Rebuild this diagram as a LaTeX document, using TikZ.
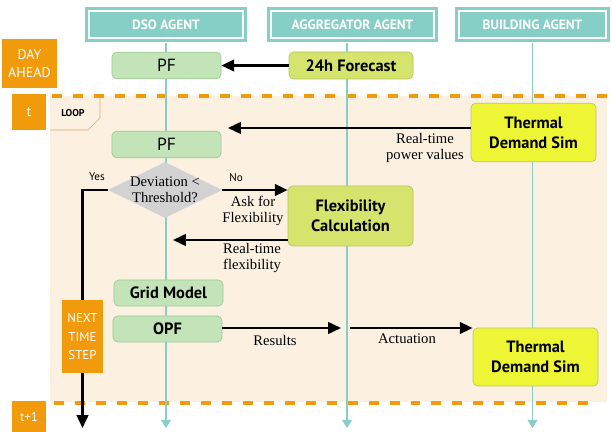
\documentclass[tikz,border=0pt]{standalone}
\usepackage{fontspec}
\setmainfont{Liberation Serif}
\setsansfont{PT Sans}
\usetikzlibrary{shapes.geometric,arrows.meta}
\definecolor{teal1}{HTML}{86CFC6}
\definecolor{orng}{HTML}{F09A0C}
\definecolor{peach}{HTML}{FCF0E1}
\definecolor{pfgreen}{HTML}{C3E4B8}
\definecolor{pfedge}{HTML}{9DCB93}
\definecolor{lime}{HTML}{D6E36C}
\definecolor{limeedge}{HTML}{B3C466}
\definecolor{yel}{HTML}{EDF534}
\definecolor{yeledge}{HTML}{B5C77A}
\definecolor{loopedge}{HTML}{F2A36B}
\definecolor{dia}{HTML}{D2D2D2}
\begin{document}
\begin{tikzpicture}[x=0.03cm,y=-0.03cm,inner sep=0,
	agent/.style={draw=teal1,fill=teal1,double=white,double distance=1.5pt,line width=2.5pt,minimum height=0.82cm,text=white,font=\sffamily\bfseries\fontsize{11.5}{13}\selectfont},
	stage/.style={fill=orng,text=white,align=center,font=\sffamily\fontsize{12}{16}\selectfont},
	task/.style={rounded corners=4pt,line width=0.6pt,align=center,font=\sffamily\bfseries\fontsize{14}{17}\selectfont},
	pf/.style={task,draw=pfedge,fill=pfgreen,minimum width=3.27cm,minimum height=0.8cm},
	sim/.style={task,draw=yeledge,fill=yel,minimum width=3.75cm,minimum height=1.76cm},
	msg/.style={line width=1.8pt,-{Triangle[length=11pt,width=10pt]}},
	life/.style={teal1,line width=1.2pt,-{Triangle[length=7pt,width=8.5pt]}},
	lbl/.style={align=center,font=\fontsize{12.5}{13.6}\selectfont},
	yn/.style={font=\sffamily\fontsize{9.5}{11}\selectfont}]
		\useasboundingbox (0,0) rectangle (612,432);
		\fill[peach] (50,96) rectangle (607,402);
		\draw[loopedge,line width=0.6pt] (50,130)--(88,130)--(100,118)--(100,96);
		\node[font=\sffamily\bfseries\fontsize{8.5}{10}\selectfont] (loop) at (73,113) {LOOP};
		\draw[orng,line width=3.5pt,dash pattern=on 8.5pt off 9.4pt] (52,96)--(612,96);
		\draw[orng,line width=3.5pt,dash pattern=on 8.5pt off 9.4pt] (54,403)--(596,403);
		\node[agent,minimum width=4.63cm] (dso) at (166,24.5) {DSO AGENT};
		\node[agent,minimum width=4.90cm] (agg) at (352.5,24.5) {AGGREGATOR AGENT};
		\node[agent,minimum width=4.42cm] (bld) at (532.5,24.5) {BUILDING AGENT};
		\coordinate (bot) at (0,428);
		\coordinate (lifeA) at (347,0);
		\draw[life,shorten <=3.3pt] (dso.south)--(dso.south |- bot);
		\draw[life,shorten <=3.3pt] (agg.south -| lifeA)--(lifeA |- bot);
		\draw[life,shorten <=3.3pt] (bld.south)--(bld.south |- bot);
		\node[stage,minimum width=1.65cm,minimum height=1.47cm] (day) at (29.5,63.5) {DAY\\AHEAD};
		\node[stage,minimum width=1.02cm,minimum height=1.08cm] (t0) at (29,112) {t};
		\node[stage,font=\sffamily\fontsize{11}{13}\selectfont,minimum width=1.02cm,minimum height=0.93cm] (t1) at (29,416.5) {t+1};
		\node[stage,font=\sffamily\fontsize{11}{16}\selectfont,minimum width=1.23cm,minimum height=2.19cm] (next) at (82.5,336.5) {NEXT\\TIME\\STEP};
		\node[pf,font=\sffamily\fontsize{15}{17}\selectfont] (pfday) at (166.5,65.5) {PF};
		\node[task,draw=limeedge,fill=lime,minimum width=3.72cm,minimum height=0.81cm] (fcst) at (351,65.5) {24h Forecast};
		\node[pf,font=\sffamily\fontsize{15}{17}\selectfont] (pfloop) at (166.5,144.5) {PF};
		\node[sim] (simtop) at (533.5,132.5) {Thermal\\Demand Sim};
		\node[diamond,fill=dia,minimum width=3.42cm,minimum height=1.68cm] (dev) at (165,190) {};
		\node[lbl] (devtxt) at (dev) {Deviation <\\Threshold?};
		\node[task,draw=limeedge,fill=lime,minimum width=3.75cm,minimum height=1.8cm] (flex) at (350.5,216) {Flexibility\\Calculation};
		\node[pf,minimum height=0.78cm] (grid) at (168.5,293) {Grid Model};
		\node[pf,minimum height=0.78cm] (opf) at (167.5,329) {OPF};
		\node[sim,minimum height=1.74cm] (simbot) at (535.5,357) {Thermal\\Demand Sim};
		\coordinate (pwr) at (228,128);
		\coordinate (flx) at (173,240);
		\coordinate (res) at (341,328);
		\coordinate (act) at (350,328);
		\draw[msg] (fcst)--(pfday);
		\draw[msg] (simtop.west |- pwr)--(pwr);
		\draw[msg] (dev.east)--(dev.east -| flex.west);
		\draw[msg] (flx -| flex.west)--(flx);
		\draw[line width=1.8pt] (dev.west)-|(next.north);
		\draw[msg] (next.south)--(next.south |- bot);
		\draw[msg] (opf.east |- res)--(res);
		\draw[msg] (act)--(act -| simbot.west);
		\node[lbl] (pwrlbl) at (425,148) {Real-time\\power values};
		\node[lbl] (asklbl) at (253,211) {Ask for\\Flexibility};
		\node[lbl] (flxlbl) at (252,258) {Real-time\\flexibility};
		\node[lbl] (reslbl) at (275,340) {Results};
		\node[lbl] (actlbl) at (407,339) {Actuation};
		\node[yn] (yes) at (97,177) {Yes};
		\node[yn] (no) at (236,178) {No};
	\end{tikzpicture}
\end{document}
